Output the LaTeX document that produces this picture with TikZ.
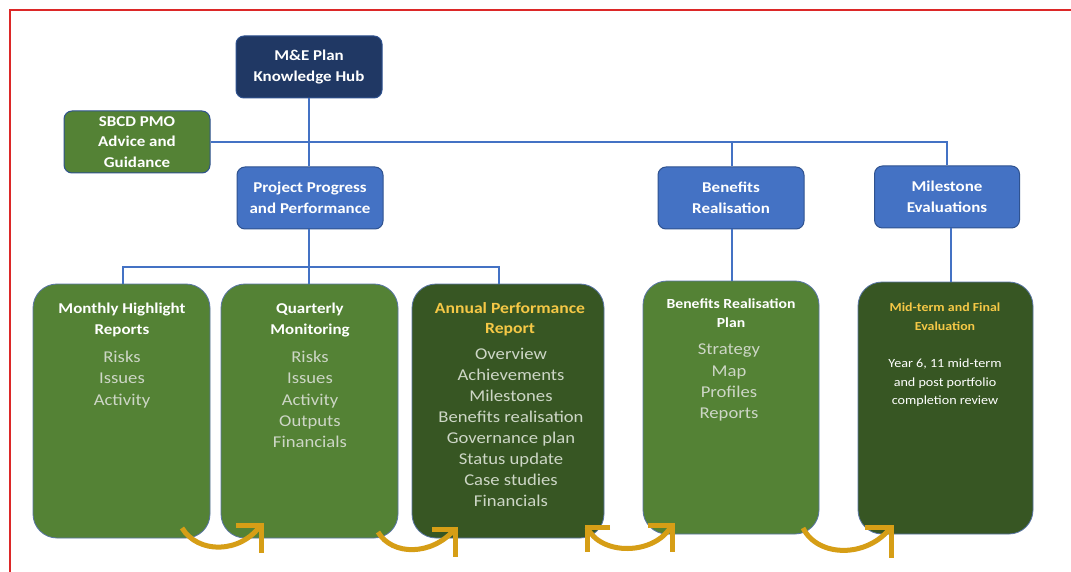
\documentclass[tikz,border=0pt]{standalone}
\usepackage{fontspec}
\setmainfont{Carlito}[FakeStretch=1.13]
\definecolor{navy}{RGB}{32,56,100}
\definecolor{bluebox}{RGB}{68,114,196}
\definecolor{grn}{RGB}{84,130,53}
\definecolor{dkgrn}{RGB}{55,86,35}
\definecolor{linkblue}{RGB}{68,114,196}
\definecolor{edgeblue}{RGB}{47,82,143}
\definecolor{gold}{RGB}{214,158,22}
\definecolor{titlegold}{RGB}{245,200,70}
\definecolor{itemc}{RGB}{205,214,198}
\definecolor{frame}{RGB}{220,40,40}
\begin{document}
\begin{tikzpicture}[x=1pt,y=-1pt,
  topbox/.style={draw=edgeblue, line width=1pt, rounded corners=8pt,
    minimum width=146pt, minimum height=62pt, text=white, align=center,
    inner sep=0pt, font=\bfseries\fontsize{15}{21}\selectfont},
  bigbox/.style={draw=edgeblue!80, line width=0.8pt, rounded corners=24pt,
    inner sep=0pt, minimum height=254pt},
  ttl/.style={anchor=north, align=center, inner sep=0pt, text=white,
    font=\bfseries\fontsize{15}{21}\selectfont},
  items/.style={anchor=north, align=center, inner sep=0pt, text=itemc,
    font=\fontsize{16.5}{21.2}\selectfont},
  link/.style={draw=linkblue, line width=2.5pt},
  flow/.style={draw=gold, line width=5pt},
  chev/.style={draw=gold, line width=5pt, line join=miter}]
\useasboundingbox (0,0) rectangle (1071,572);
\fill[white] (0,0) rectangle (1071,572);
\begin{scope}
\clip (0,0) rectangle (1071,572);
\draw[frame, line width=2.5pt] (10,10) rectangle (1090,600);
\end{scope}

% top level boxes
\node[topbox, fill=navy] (hub) at (309,67) {M\&E Plan\\Knowledge Hub};
\node[topbox, fill=grn, font=\bfseries\fontsize{15}{20.5}\selectfont] (sbcd) at (137,142) {SBCD PMO\\Advice and\\Guidance};
\node[topbox, fill=bluebox] (ppp) at (310,198) {Project Progress\\and Performance};
\node[topbox, fill=bluebox] (ben) at (731,198) {Benefits\\Realisation};
\node[topbox, fill=bluebox, minimum width=145pt] (mil) at (947,197) {Milestone\\Evaluations};

% bottom boxes
\node[bigbox, fill=grn, minimum width=177pt] (mon) at (121.5,411) {};
\node[bigbox, fill=grn, minimum width=177pt] (qua) at (309.5,411) {};
\node[bigbox, fill=dkgrn, minimum width=192pt] (ann) at (508,411) {};
\node[bigbox, fill=grn, minimum width=176pt, minimum height=253pt] (brp) at (731,407.5) {};
\node[bigbox, fill=dkgrn, minimum width=175pt, minimum height=252pt] (mid) at (945.5,408) {};

% connectors
\coordinate (jt) at (309,142);
\coordinate (jb) at (732,142);
\coordinate (jm) at (947,142);
\coordinate (jp) at (309,267);
\coordinate (jl) at (123,267);
\coordinate (jr) at (499,267);
\draw[link] (hub.south) -- (ppp.north -| hub.south);
\draw[link] (sbcd.east) -- (jm) -- (mil.north -| jm);
\draw[link] (jb) -- (ben.north -| jb);
\draw[link] (ppp.south -| jp) -- (jp);
\draw[link] (mon.north -| jl) -- (jl) -- (jr) -- (ann.north -| jr);
\draw[link] (jp) -- (qua.north -| jp);
\draw[link] (ben.south -| jb) -- (brp.north -| jb);
\coordinate (jmid) at (951,240);
\draw[link] (mil.south -| jmid) -- (mid.north -| jmid);

% texts
\node[ttl] (monT) at (122,303) {Monthly Highlight\\Reports};
\node[items] (monB) at (122,351) {Risks\\Issues\\Activity};
\node[ttl] (quaT) at (310,303) {Quarterly\\Monitoring};
\node[items] (quaB) at (310,351) {Risks\\Issues\\Activity\\Outputs\\Financials};
\node[ttl, text=titlegold, font=\bfseries\fontsize{15.6}{20}\selectfont] (annT) at (510,302) {Annual Performance\\Report};
\node[items, font=\fontsize{16.5}{21}\selectfont] (annB) at (511,348) {Overview\\Achievements\\Milestones\\Benefits realisation\\Governance plan\\Status update\\Case studies\\Financials};
\node[ttl, font=\bfseries\fontsize{13.9}{19}\selectfont] (brpT) at (731,299) {Benefits Realisation\\Plan};
\node[items] (brpB) at (729,344) {Strategy\\Map\\Profiles\\Reports};
\node[ttl, text=titlegold, font=\bfseries\fontsize{12.3}{19}\selectfont] (midT) at (945,303) {Mid-term and Final\\Evaluation};
\node[items, text=white, font=\fontsize{12.5}{18.5}\selectfont] (midB) at (945,359) {Year 6, 11 mid-term\\and post portfolio\\completion review};

% flow arrows
\coordinate (a1s) at (182,528); \coordinate (a1t) at (261,525);
\coordinate (a1h) at (236,525); \coordinate (a1v) at (261,553);
\draw[flow] (a1s) .. controls (198,554) and (240,554) .. (a1t);
\draw[chev] (a1h) -- (a1t) -- (a1v);

\coordinate (a2s) at (378,532); \coordinate (a2t) at (455,529);
\coordinate (a2h) at (432,529); \coordinate (a2v) at (455,557);
\draw[flow] (a2s) .. controls (392,556) and (432,556) .. (a2t);
\draw[chev] (a2h) -- (a2t) -- (a2v);

\coordinate (a3s) at (587,527); \coordinate (a3t) at (672,525);
\coordinate (a3sh) at (610,527); \coordinate (a3sv) at (587,552);
\coordinate (a3h) at (648,525); \coordinate (a3v) at (672,552);
\draw[flow] (a3s) .. controls (600,556) and (655,556) .. (a3t);
\draw[chev] (a3sh) -- (a3s) -- (a3sv);
\draw[chev] (a3h) -- (a3t) -- (a3v);

\coordinate (a4s) at (803,528); \coordinate (a4t) at (891,527);
\coordinate (a4h) at (865,527); \coordinate (a4v) at (891,558);
\draw[flow] (a4s) .. controls (818,558) and (868,558) .. (a4t);
\draw[chev] (a4h) -- (a4t) -- (a4v);
\end{tikzpicture}
\end{document}
